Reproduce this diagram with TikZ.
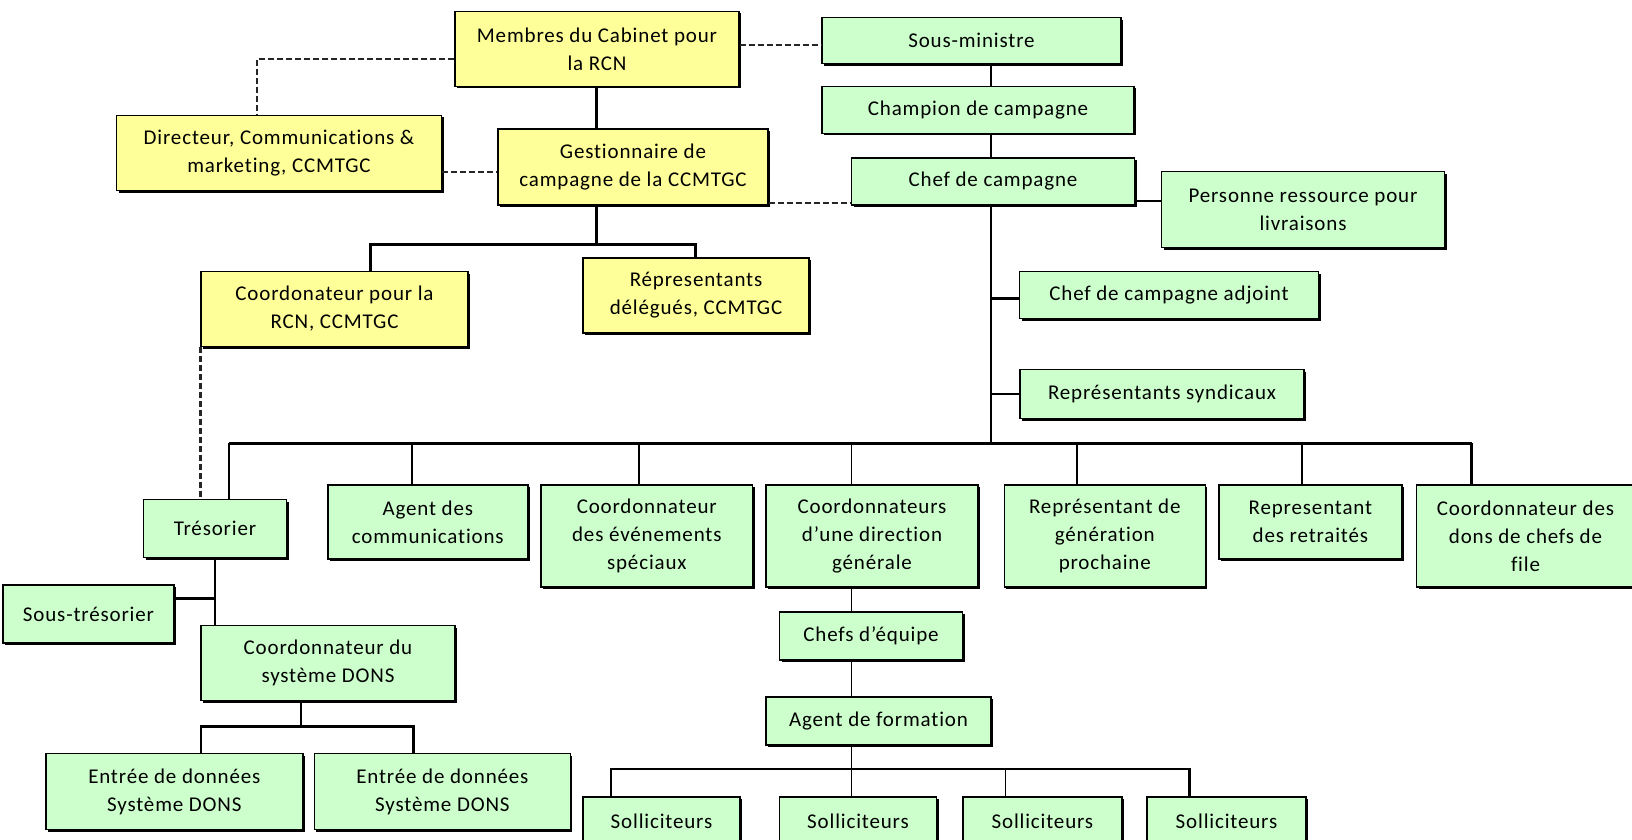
\documentclass[tikz,border=0pt]{standalone}
\usepackage{fontspec}
\setmainfont{Carlito}[LetterSpace=4, Ligatures={NoCommon}]
\usetikzlibrary{shadows}
\definecolor{ybox}{RGB}{255,255,153}
\definecolor{gbox}{RGB}{204,255,204}
\tikzset{
  box/.style={draw=black, line width=1.4pt, align=center, inner sep=0pt,
    font=\fontsize{21}{28}\selectfont,
    drop shadow={shadow xshift=2pt, shadow yshift=-2pt, fill=black, opacity=1}},
  ybx/.style={box, fill=ybox},
  gbx/.style={box, fill=gbox},
  conn/.style={line width=2.6pt, black},
  thinconn/.style={line width=1.4pt, black},
  dashconn/.style={line width=2.4pt, dash pattern=on 6pt off 3pt, black!85},
}
\begin{document}
\begin{tikzpicture}[x=1pt,y=-1pt]
\useasboundingbox (0,0) rectangle (1632,840);
\clip (0,0) rectangle (1632,840);
\fill[white] (0,0) rectangle (1632,840);

% nodes
\node[ybx, minimum width=284pt, minimum height=75pt] (memb) at (597,49) {Membres du Cabinet pour\\la RCN};
\node[gbx, minimum width=299pt, minimum height=46pt] (sousmin) at (971.5,40.6) {Sous-ministre};
\node[gbx, minimum width=312pt, minimum height=47pt] (champ) at (978,110) {Champion de campagne};
\node[ybx, minimum width=325pt, minimum height=75pt] (dir) at (279,153) {Directeur, Communications \&\\marketing, CCMTGC};
\node[ybx, minimum width=270pt, minimum height=76pt] (gest) at (633,167) {Gestionnaire de\\campagne de la CCMTGC};
\node[gbx, minimum width=283pt, minimum height=47pt] (chef) at (993,181.5) {Chef de campagne};
\node[gbx, minimum width=283pt, minimum height=76pt] (pers) at (1303,209.7) {Personne ressource pour\\livraisons};
\node[ybx, minimum width=267pt, minimum height=75pt] (coordrcn) at (334.5,309) {Coordonateur pour la\\RCN, CCMTGC};
\node[ybx, minimum width=226pt, minimum height=75pt] (repdel) at (696,295.5) {Répresentants\\délégués, CCMTGC};
\node[gbx, minimum width=299pt, minimum height=47pt] (adj) at (1169,295) {Chef de campagne adjoint};
\node[gbx, minimum width=284pt, minimum height=49pt] (synd) at (1162,394) {Représentants syndicaux};
\node[gbx, minimum width=143pt, minimum height=58pt] (tres) at (215,528.7) {Trésorier};
\node[gbx, minimum width=200pt, minimum height=74pt] (agcom) at (427.8,522) {Agent des\\communications};
\node[gbx, minimum width=211.5pt, minimum height=102pt] (even) at (646.8,536) {Coordonnateur\\des événements\\spéciaux};
\node[gbx, minimum width=212pt, minimum height=102pt] (dirgen) at (872,536) {Coordonnateurs\\d’une direction\\générale};
\node[gbx, minimum width=201pt, minimum height=102pt] (gen) at (1104.8,536) {Représentant de\\génération\\prochaine};
\node[gbx, minimum width=183pt, minimum height=74pt] (retr) at (1310.4,522) {Representant\\des retraités};
\node[gbx, minimum width=218pt, minimum height=102pt] (file) at (1525.5,536) {Coordonnateur des\\dons de chefs de\\file};
\node[gbx, minimum width=171pt, minimum height=58pt] (soustres) at (88.5,614) {Sous-trésorier};
\node[gbx, minimum width=254pt, minimum height=75pt] (dons) at (328,663) {Coordonnateur du\\système DONS};
\node[gbx, minimum width=183pt, minimum height=48pt] (equipe) at (871,636) {Chefs d’équipe};
\node[gbx, minimum width=225pt, minimum height=48pt] (form) at (878.5,721) {Agent de formation};
\node[gbx, minimum width=257pt, minimum height=76pt] (ent1) at (174.3,791.5) {Entrée de données\\Système DONS};
\node[gbx, minimum width=256pt, minimum height=76pt] (ent2) at (442.4,791.5) {Entrée de données\\Système DONS};
\node[gbx, minimum width=157pt, minimum height=48pt] (sol1) at (661.5,821) {Solliciteurs};
\node[gbx, minimum width=157pt, minimum height=48pt] (sol2) at (858,821) {Solliciteurs};
\node[gbx, minimum width=159pt, minimum height=48pt] (sol3) at (1042.4,821) {Solliciteurs};
\node[gbx, minimum width=159pt, minimum height=48pt] (sol4) at (1226.5,821) {Solliciteurs};

% junction coordinates
\coordinate (gx) at (596.4,0);
\coordinate (gj) at (596.4,244.6);
\coordinate (sp) at (990.8,443.4);
\coordinate (busL) at (229,443.4);
\coordinate (busR) at (1471.7,443.4);
\coordinate (dj) at (300.8,726.5);
\coordinate (fj) at (851.4,769);

% dashed links
\draw[dashconn] (memb.west |- 0,59.3) -| (dir.north -| 257,0);
\draw[dashconn] (memb.east |- 0,44.8) -- (sousmin.west |- 0,44.8);
\draw[dashconn] (dir.east |- 0,171.7) -- (gest.west |- 0,171.7);
\draw[dashconn] (gest.east |- 0,203) -- (chef.west |- 0,203);
\draw[dashconn] (coordrcn.south west) -- (tres.north -| coordrcn.south west);

% solid links
\draw[conn] (memb.south -| gx) -- (gest.north -| gx);
\draw[conn] (gest.south -| gx) -- (gj);
\draw[conn] (coordrcn.north -| 370.5,0) |- (gj) -| (repdel.north -| 695.3,0);

\draw[conn] (sousmin.south -| sp) -- (champ.north -| sp);
\draw[conn] (champ.south -| sp) -- (chef.north -| sp);
\draw[conn] (chef.south -| sp) -- (sp);
\draw[conn] (chef.east |- 0,201) -- (pers.west |- 0,201);
\draw[conn] (sp |- 0,298.7) -- (adj.west |- 0,298.7);
\draw[conn] (sp |- synd.west) -- (synd.west);

\draw[conn] (busL) -- (busR);
\draw[conn] (busL) -- (tres.north -| busL);
\draw[conn] (agcom.north -| 412,0) -- (412,443.4);
\draw[conn] (even.north -| 639,0) -- (639,443.4);
\draw[thinconn] (dirgen.north -| fj) -- (fj |- sp);
\draw[thinconn] (gen.north -| 1077,0) -- (1077,443.4);
\draw[conn] (retr.north -| 1302,0) -- (1302,443.4);
\draw[conn] (file.north -| busR) -- (busR);

\draw[conn] (tres.south) -- (dons.north -| tres.south);
\draw[conn] (soustres.east |- 0,598.5) -- (tres.south |- 0,598.5);

\draw[thinconn] (dons.south -| dj) -- (dj);
\draw[conn] (ent1.north -| 201,0) |- (dj) -| (ent2.north -| 413.2,0);

\draw[thinconn] (dirgen.south -| fj) -- (equipe.north -| fj);
\draw[thinconn] (equipe.south -| fj) -- (form.north -| fj);
\draw[thinconn] (form.south -| fj) -- (fj);
\draw[conn] (sol1.north -| 611,0) |- (fj) -| (sol4.north -| 1189.6,0);
\draw[thinconn] (fj) -- (sol2.north -| fj);
\draw[thinconn] (sol3.north -| 1005.4,0) -- (1005.4,769);
\end{tikzpicture}
\end{document}
